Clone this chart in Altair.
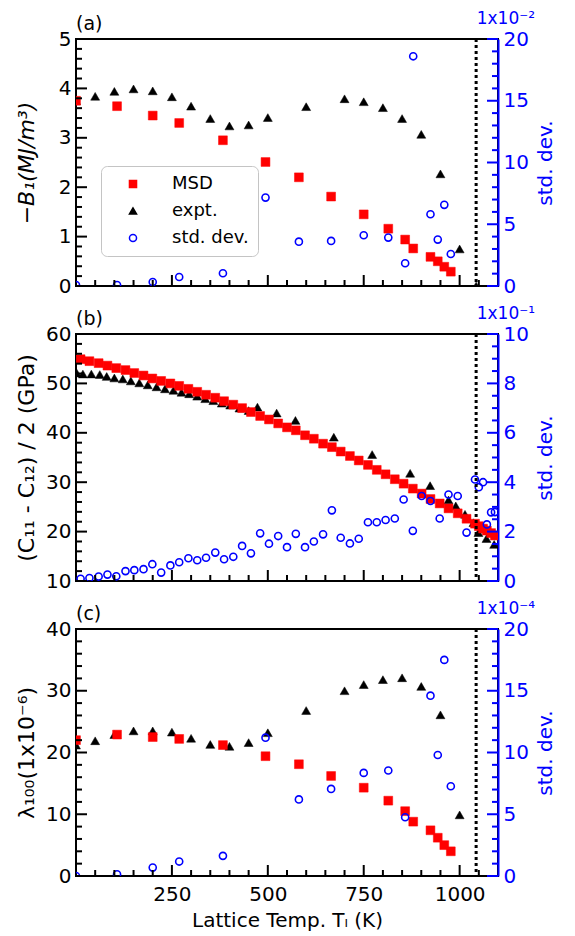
import altair as alt
import pandas as pd

FONT = "DejaVu Sans"
RED = "#ff0000"
BLUE = "#0000ff"
BLACK = "#000000"
W, H = 422, 247
XDOM = [0, 1100]

# ---------------- data ----------------
names = ["MSD", "expt.", "std. dev."]
curie = [1043]
x_major = [250, 500, 750, 1000]
x_minor = [50, 100, 150, 200, 300, 350, 400, 450, 550, 600, 650, 700, 800, 850, 900, 950, 1050]

# panel (a)
a_t_msd = [0, 107, 200, 269, 383, 494, 581, 665, 750, 814, 858, 879, 924, 943, 960, 977]
a_msd = [3.75, 3.64, 3.45, 3.30, 2.95, 2.51, 2.20, 1.81, 1.45, 1.16, 0.94, 0.76, 0.59, 0.50, 0.39, 0.29]
a_std = [0.08, 0.08, 0.32, 0.73, 1.03, 7.16, 3.59, 3.65, 4.11, 3.92, 1.84, 18.6, 5.81, 3.76, 6.57, 2.59]
a_t_expt = [0, 50, 100, 150, 200, 250, 300, 350, 400, 450, 500, 600, 700, 750, 800, 850, 900, 950, 1000, 1043]
a_expt = [3.75, 3.84, 3.94, 3.99, 3.95, 3.83, 3.64, 3.39, 3.24, 3.26, 3.41, 3.63, 3.79, 3.73, 3.61, 3.39, 3.07, 2.27, 0.75, 0.0]

# panel (b)
b_t = [12, 35, 59, 82, 105, 129, 152, 176, 199, 222,
       246, 269, 293, 316, 339, 363, 386, 410, 433, 456,
       480, 503, 527, 550, 573, 597, 620, 644, 667, 690,
       714, 737, 761, 784, 807, 831, 854, 878, 901, 924,
       948, 971, 995, 1018, 1040, 1050, 1061, 1071, 1082, 1092]
b_msd = [54.9, 54.5, 54.1, 53.6, 53.1, 52.7, 52.1, 51.6, 51.0, 50.5,
         50.0, 49.5, 48.9, 48.3, 47.7, 47.1, 46.4, 45.7, 45.0, 44.2,
         43.4, 42.7, 41.9, 41.1, 40.5, 39.5, 38.8, 37.8, 37.1, 36.2,
         35.3, 34.4, 33.5, 32.5, 31.6, 30.6, 29.7, 28.7, 27.7, 26.6,
         25.7, 24.7, 23.7, 22.6, 21.6, 21.1, 20.6, 20.2, 19.7, 19.2]
b_std = [0.09, 0.12, 0.18, 0.26, 0.19, 0.40, 0.44, 0.48, 0.68, 0.34,
         0.63, 0.76, 0.92, 0.84, 0.94, 1.15, 0.88, 0.98, 1.42, 1.12,
         1.93, 1.51, 1.82, 1.37, 1.91, 1.37, 1.60, 1.89, 2.86, 1.75,
         1.52, 1.71, 2.38, 2.38, 2.47, 2.53, 3.30, 2.03, 3.44, 3.24,
         2.53, 3.50, 3.44, 1.96, 4.11, 3.80, 4.00, 2.29, 2.78, 2.79]
b_t_expt = [2, 18, 40, 62, 80, 100, 122, 143, 165, 187,
            210, 232, 254, 275, 295, 316, 337, 358, 380, 402,
            426, 450, 473, 523, 572, 672, 772, 871, 923, 971,
            990, 1014, 1036, 1049, 1070, 1090]
b_expt = [52.1, 51.9, 51.9, 51.8, 51.4, 51.1, 50.9, 50.5, 50.1, 49.7,
          49.3, 48.9, 48.6, 48.2, 47.9, 47.4, 46.9, 46.5, 46.0, 45.6,
          45.0, 44.5, 45.2, 44.0, 42.5, 39.1, 35.6, 31.8, 29.3, 26.4,
          25.2, 23.5, 21.8, 19.8, 18.6, 17.4]

# panel (c)
c_t_msd = [0, 107, 200, 269, 383, 494, 581, 665, 750, 814, 858, 879, 924, 943, 960, 977]
c_msd = [22.0, 22.9, 22.5, 22.2, 21.2, 19.4, 18.1, 16.2, 14.3, 12.2, 10.5, 8.8, 7.4, 6.2, 5.0, 4.0]
c_t_std = [0, 107, 200, 269, 383, 494, 581, 665, 750, 814, 858, 924, 943, 960, 977]
c_std = [0.0, 0.14, 0.68, 1.17, 1.63, 11.2, 6.2, 7.05, 8.35, 8.54, 4.76, 14.6, 9.8, 17.5, 7.27]
c_t_expt = [0, 50, 100, 150, 200, 250, 300, 350, 400, 450, 500, 600, 700, 750, 800, 850, 900, 950, 1000]
c_expt = [21.2, 21.9, 22.9, 23.5, 23.5, 23.3, 22.3, 21.3, 21.0, 21.6, 23.2, 26.8, 30.0, 31.0, 31.8, 32.1, 30.7, 26.1, 9.9]

TMAJ = 11   # major tick length in px (drawn inward)
TMIN = 6    # minor tick length in px
HLINE = "M-1,0L1,0"   # symbol path for a horizontal tick
VLINE = "M0,-1L0,1"   # symbol path for a vertical tick


def df(t, v, kind):
    return pd.DataFrame({"T": t, "v": v, "kind": [kind] * len(t)})


def xscale():
    return alt.Scale(domain=XDOM, nice=False, zero=False)


def yscale(dom):
    return alt.Scale(domain=dom, nice=False, zero=False)


LEG = alt.Legend(orient="none", legendX=25, legendY=127, title=None,
                 labelFont=FONT, labelFontSize=18, labelColor=BLACK,
                 symbolSize=50, symbolStrokeWidth=1.5, padding=9, rowPadding=9,
                 symbolOffset=14, labelOffset=30, fillColor="white",
                 strokeColor="#c4c4c4", cornerRadius=6)


def leg():
    return dict(
        fill=alt.Fill("kind:N", scale=alt.Scale(domain=names, range=[RED, BLACK, "transparent"]), legend=LEG),
        stroke=alt.Stroke("kind:N", scale=alt.Scale(domain=names, range=[RED, BLACK, BLUE]), legend=LEG),
        shape=alt.Shape("kind:N", scale=alt.Scale(domain=names, range=["square", "triangle-up", "circle"]),
                        legend=LEG),
    )


def yticks(vals, dom, px, color, side):
    xc = px / 2 if side == "left" else W - px / 2
    return alt.Chart(pd.DataFrame({"v": vals})).mark_point(
        shape=HLINE, size=px * px, filled=False, stroke=color, strokeWidth=2, opacity=1
    ).encode(y=alt.Y("v:Q", scale=yscale(dom), axis=None), x=alt.value(xc))


def xticks(vals, px):
    return alt.Chart(pd.DataFrame({"T": vals})).mark_point(
        shape=VLINE, size=px * px, filled=False, stroke=BLACK, strokeWidth=2, opacity=1
    ).encode(x=alt.X("T:Q", scale=xscale(), axis=None), y=alt.value(H - px / 2))


def panel(tag, exp_text, ytitle, title_style, ydom, ymaj, ymin, rdom, rmaj, rmin,
          d_msd, d_expt, d_std, show_x, with_legend):
    xt = dict(title="Lattice Temp. Tₗ (K)", titleFont=FONT, titleFontSize=20,
              titleFontWeight="normal", titleColor=BLACK, titleY=50,
              titleBaseline="alphabetic") if show_x else dict(title=None)
    x_axis = alt.Axis(orient="bottom", values=x_major, ticks=False, domain=False,
                      labels=show_x, labelFont=FONT, labelFontSize=20, labelColor=BLACK,
                      labelPadding=8, labelFlush=False, format="d", grid=False, **xt)
    yl_axis = alt.Axis(orient="left", values=ymaj, ticks=False, domain=False,
                       labelFont=FONT, labelFontSize=20, labelColor=BLACK, labelPadding=5,
                       labelFlush=False, grid=False, title=ytitle, titleFont=FONT,
                       titleFontSize=22, titleFontWeight="normal", titleFontStyle=title_style,
                       titleColor=BLACK, titleAngle=270, titleAlign="center",
                       titleBaseline="bottom", titleX=-38, titleY=H / 2)
    yr_axis = alt.Axis(orient="right", values=rmaj, ticks=False, domain=True,
                       domainColor=BLUE, domainWidth=2,
                       labelFont=FONT, labelFontSize=20, labelColor=BLUE, labelPadding=5,
                       labelFlush=False, grid=False, title="std. dev.", titleFont=FONT,
                       titleFontSize=20, titleFontWeight="normal", titleColor=BLUE,
                       titleAngle=270, titleAlign="center", titleBaseline="bottom",
                       titleX=57, titleY=H / 2)

    expt = alt.Chart(d_expt).mark_point(
        shape="triangle-up", size=80, fill=BLACK, stroke=BLACK, strokeWidth=0.5,
        opacity=1, fillOpacity=1, clip=True
    ).encode(x=alt.X("T:Q", scale=xscale(), axis=x_axis),
             y=alt.Y("v:Q", scale=yscale(ydom), axis=yl_axis),
             **(leg() if with_legend else {}))
    msd = alt.Chart(d_msd).mark_point(
        shape="square", size=78, fill=RED, stroke=RED, strokeWidth=0.5,
        opacity=1, fillOpacity=1, clip=True
    ).encode(x=alt.X("T:Q", scale=xscale(), axis=None),
             y=alt.Y("v:Q", scale=yscale(ydom), axis=None),
             **(leg() if with_legend else {}))
    std = alt.Chart(d_std).mark_point(
        shape="circle", size=50, fill="transparent", stroke=BLUE, strokeWidth=1.6,
        opacity=1, clip=True
    ).encode(x=alt.X("T:Q", scale=xscale(), axis=None),
             y=alt.Y("v:Q", scale=yscale(rdom), axis=yr_axis),
             **(leg() if with_legend else {}))
    rule = alt.Chart(pd.DataFrame({"T": curie})).mark_rule(
        color=BLACK, strokeWidth=3, strokeDash=[3, 3]
    ).encode(x=alt.X("T:Q", scale=xscale(), axis=None))
    note = alt.Chart(pd.DataFrame({"t": [exp_text]})).mark_text(
        align="right", baseline="alphabetic", font=FONT, fontSize=17, color=BLUE
    ).encode(x=alt.value(W + 37), y=alt.value(-15), text="t:N")
    label = alt.Chart(pd.DataFrame({"t": [tag]})).mark_text(
        align="left", baseline="alphabetic", font=FONT, fontSize=19, color=BLACK
    ).encode(x=alt.value(0), y=alt.value(-9), text="t:N")

    tick_layers = [
        xticks(x_major, TMAJ), xticks(x_minor, TMIN),
        yticks(ymaj, ydom, TMAJ, BLACK, "left"), yticks(ymin, ydom, TMIN, BLACK, "left"),
        yticks(rmaj, rdom, TMAJ, BLUE, "right"), yticks(rmin, rdom, TMIN, BLUE, "right"),
    ]

    return alt.layer(expt, msd, std, rule, *tick_layers, note, label).resolve_scale(
        x="independent", y="independent"
    ).properties(width=W, height=H)


def minors(step, top, every):
    return [round(i * step, 3) for i in range(int(round(top / step)) + 1) if i % every]


pa = panel("(a)", "1x10⁻²", "−B₁(MJ/m³)", "italic", [0, 5], [0, 1, 2, 3, 4, 5], minors(0.2, 5, 5),
           [0, 20], [0, 5, 10, 15, 20], minors(1, 20, 5),
           df(a_t_msd, a_msd, "MSD"), df(a_t_expt, a_expt, "expt."), df(a_t_msd, a_std, "std. dev."),
           False, True)
pb = panel("(b)", "1x10⁻¹", "(C₁₁ - C₁₂) / 2 (GPa)", "normal", [10, 60], [10, 20, 30, 40, 50, 60],
           [v + 10 for v in minors(2, 50, 5)],
           [0, 10], [0, 2, 4, 6, 8, 10], minors(0.5, 10, 4),
           df(b_t, b_msd, "MSD"), df(b_t_expt, b_expt, "expt."), df(b_t, b_std, "std. dev."),
           False, False)
pc = panel("(c)", "1x10⁻⁴", "λ₁₀₀(1x10⁻⁶)", "normal", [0, 40], [0, 10, 20, 30, 40], minors(2, 40, 5),
           [0, 20], [0, 5, 10, 15, 20], minors(1, 20, 5),
           df(c_t_msd, c_msd, "MSD"), df(c_t_expt, c_expt, "expt."), df(c_t_std, c_std, "std. dev."),
           True, False)

chart = alt.vconcat(pa, pb, pc, spacing=7).resolve_scale(
    fill="independent", stroke="independent", shape="independent"
).resolve_legend(
    fill="independent", stroke="independent", shape="independent"
).configure_view(stroke=BLACK, strokeWidth=2).properties(
    padding={"left": 5, "top": 1, "right": 5, "bottom": 0}
)

chart.save("out.html", embed_options={"renderer": "svg", "actions": False})
